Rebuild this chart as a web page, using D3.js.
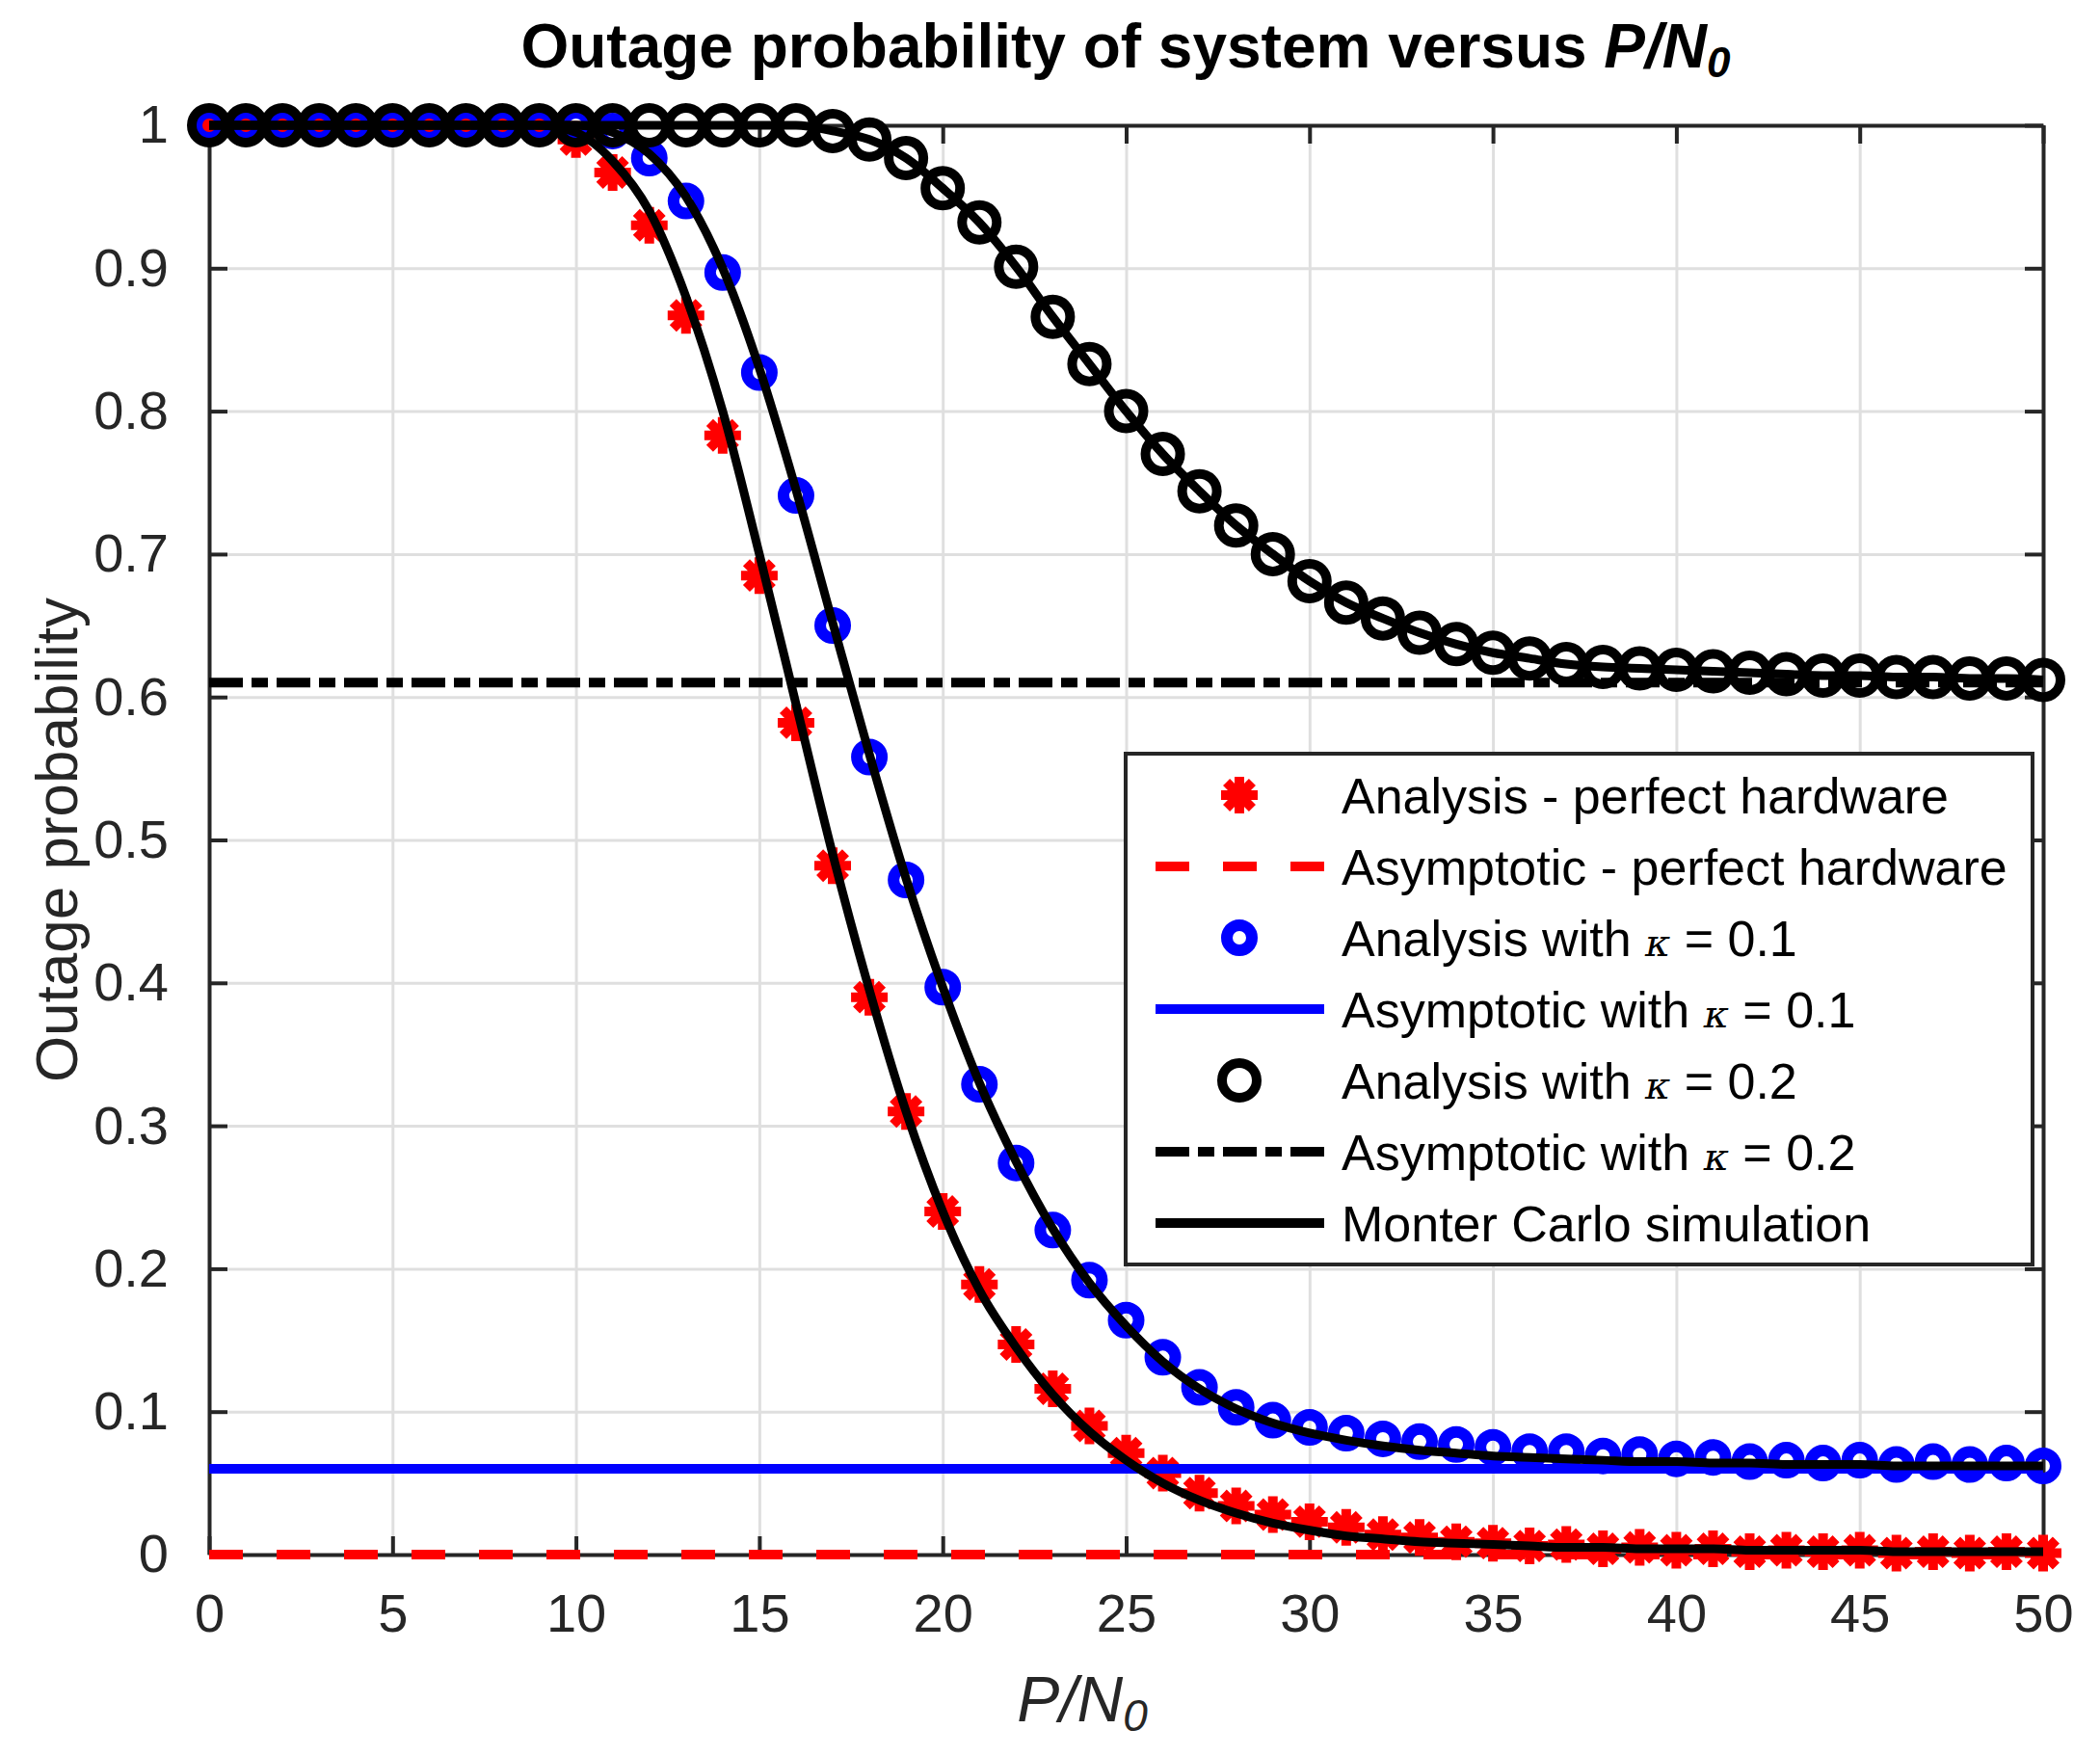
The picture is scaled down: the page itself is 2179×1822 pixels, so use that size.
<!DOCTYPE html>
<html>
<head>
<meta charset="utf-8">
<script src="https://cdnjs.cloudflare.com/ajax/libs/d3/7.8.5/d3.min.js"></script>
<style>
  body { margin: 0; background: #fff; }
  text { font-family: Arial, "Liberation Sans", Helvetica, sans-serif; }
</style>
</head>
<body>
<div id="chart"></div>
<script>
var w = 2179;
var h = 1822;

// P/N0 sample grid (one marker per unit)
var snr = d3.range(0, 51);

// Analysis markers
var anaPerfect = [1, 1, 1, 1, 1, 1, 1, 1, 1, 1,
  0.99, 0.967, 0.93, 0.867, 0.783, 0.685, 0.582, 0.482, 0.39, 0.31,
  0.24, 0.189, 0.147, 0.116, 0.09, 0.071, 0.057, 0.043, 0.034, 0.028,
  0.023, 0.019, 0.014, 0.012, 0.009, 0.008, 0.006, 0.007, 0.004, 0.005,
  0.003, 0.004, 0.002, 0.003, 0.002, 0.003, 0.001, 0.002, 0.001, 0.002, 0.001];

var anaK1 = [1, 1, 1, 1, 1, 1, 1, 1, 1, 1, 1,
  0.996, 0.977, 0.947, 0.897, 0.827, 0.741, 0.65, 0.558, 0.472,
  0.397, 0.329, 0.274, 0.227, 0.192, 0.164, 0.138, 0.117, 0.103, 0.094,
  0.089, 0.085, 0.081, 0.079, 0.077, 0.075, 0.072, 0.072, 0.069, 0.07,
  0.067, 0.068, 0.065, 0.066, 0.064, 0.066, 0.063, 0.065, 0.063, 0.064, 0.062];

var anaK2 = [1, 1, 1, 1, 1, 1, 1, 1, 1, 1, 1, 1, 1, 1, 1, 1, 1,
  0.996, 0.99, 0.977, 0.956, 0.932, 0.901, 0.866, 0.833, 0.8,
  0.77, 0.744, 0.72, 0.7, 0.681, 0.666, 0.655, 0.645, 0.637, 0.631,
  0.627, 0.623, 0.621, 0.62, 0.619, 0.618, 0.617, 0.616, 0.615, 0.615,
  0.614, 0.614, 0.613, 0.613, 0.612];

// Monte Carlo curves
var mcPerfect = [1, 1, 1, 1, 1, 1, 1, 1, 1, 1,
  0.995, 0.975, 0.94, 0.88, 0.8, 0.7, 0.595, 0.49, 0.395, 0.31,
  0.24, 0.185, 0.145, 0.112, 0.086, 0.066, 0.05, 0.038, 0.029, 0.022,
  0.017, 0.013, 0.011, 0.009, 0.008, 0.007, 0.006, 0.005, 0.005, 0.004,
  0.004, 0.004, 0.003, 0.003, 0.003, 0.003, 0.002, 0.002, 0.002, 0.002, 0.002];

var mcK1 = [1, 1, 1, 1, 1, 1, 1, 1, 1, 1, 1,
  0.995, 0.98, 0.95, 0.9, 0.83, 0.745, 0.652, 0.56, 0.473,
  0.397, 0.33, 0.275, 0.228, 0.19, 0.16, 0.135, 0.116, 0.102, 0.092,
  0.085, 0.08, 0.076, 0.073, 0.071, 0.069, 0.068, 0.067, 0.066, 0.065,
  0.065, 0.064, 0.064, 0.063, 0.063, 0.063, 0.062, 0.062, 0.062, 0.062, 0.062];

var mcK2 = [1, 1, 1, 1, 1, 1, 1, 1, 1, 1, 1, 1, 1, 1, 1, 1, 1,
  0.996, 0.99, 0.977, 0.956, 0.932, 0.901, 0.866, 0.833, 0.8,
  0.77, 0.744, 0.72, 0.7, 0.681, 0.666, 0.655, 0.645, 0.637, 0.631,
  0.627, 0.623, 0.621, 0.62, 0.619, 0.618, 0.617, 0.616, 0.615, 0.615,
  0.614, 0.614, 0.613, 0.613, 0.612];

// Asymptotic levels
var asymPerfect = 0;
var asymK1 = 0.06;
var asymK2 = 0.61;

var xTicks = [0, 5, 10, 15, 20, 25, 30, 35, 40, 45, 50];
var yTicks = [0, 0.1, 0.2, 0.3, 0.4, 0.5, 0.6, 0.7, 0.8, 0.9, 1];

var legendLabels = [
  ["Analysis - perfect hardware"],
  ["Asymptotic - perfect hardware"],
  ["Analysis with ", "κ", " = 0.1"],
  ["Asymptotic with ", "κ", " = 0.1"],
  ["Analysis with ", "κ", " = 0.2"],
  ["Asymptotic with ", "κ", " = 0.2"],
  ["Monter Carlo simulation"]
];

// plot box (window.top is reserved, so no "top" here)
var xLeft = 217, xRight = 2120, yTop = 130, yBottom = 1613;
var axisColor = "#262626";

var x = d3.scaleLinear().domain([0, 50]).range([xLeft, xRight]);
var y = d3.scaleLinear().domain([0, 1]).range([yBottom, yTop]);

var svg = d3.select("#chart")
  .append("svg")
  .attr("width", w)
  .attr("height", h);

svg.append("rect").attr("width", w).attr("height", h).attr("fill", "#fff");

// grid
svg.append("g")
  .attr("transform", "translate(0," + yBottom + ")")
  .call(d3.axisBottom(x).tickValues(xTicks).tickSize(-(yBottom - yTop)).tickFormat(""))
  .call(g => g.select(".domain").remove())
  .call(g => g.selectAll("line").attr("stroke", "#dfdfdf").attr("stroke-width", 3));

svg.append("g")
  .attr("transform", "translate(" + xLeft + ",0)")
  .call(d3.axisLeft(y).tickValues(yTicks).tickSize(-(xRight - xLeft)).tickFormat(""))
  .call(g => g.select(".domain").remove())
  .call(g => g.selectAll("line").attr("stroke", "#dfdfdf").attr("stroke-width", 3));

// axes box with inward ticks on all sides
function styleAxis(g) {
  g.select(".domain").attr("stroke", axisColor).attr("stroke-width", 4);
  g.selectAll(".tick line").attr("stroke", axisColor).attr("stroke-width", 4);
  g.selectAll(".tick text").attr("fill", axisColor).attr("font-size", 56);
}

svg.append("g")
  .attr("transform", "translate(0," + yBottom + ")")
  .call(d3.axisBottom(x).tickValues(xTicks).tickSizeInner(-19).tickSizeOuter(0).tickPadding(40).tickFormat(d3.format("d")))
  .call(styleAxis)
  .call(g => g.selectAll(".tick text").attr("dy", "0.71em"));

svg.append("g")
  .attr("transform", "translate(0," + yTop + ")")
  .call(d3.axisTop(x).tickValues(xTicks).tickSizeInner(-19).tickSizeOuter(0).tickFormat(""))
  .call(styleAxis);

svg.append("g")
  .attr("transform", "translate(" + xLeft + ",0)")
  .call(d3.axisLeft(y).tickValues(yTicks).tickSizeInner(-19).tickSizeOuter(0).tickPadding(42)
    .tickFormat(d => d === 0 || d === 1 ? d3.format("d")(d) : d3.format(".1f")(d)))
  .call(styleAxis);

svg.append("g")
  .attr("transform", "translate(" + xRight + ",0)")
  .call(d3.axisRight(y).tickValues(yTicks).tickSizeInner(-19).tickSizeOuter(0).tickFormat(""))
  .call(styleAxis);

// marker shapes
function asterisk(r) {
  var a = r * 0.707;
  return "M" + (-r) + ",0L" + r + ",0M0," + (-r) + "L0," + r +
    "M" + (-a) + "," + (-a) + "L" + a + "," + a + "M" + (-a) + "," + a + "L" + a + "," + (-a);
}

var line = d3.line()
  .x((d, i) => x(snr[i]))
  .y(d => y(d))
  .curve(d3.curveMonotoneX);

var data = svg.append("g");

// red: perfect hardware
data.selectAll(".redMark")
  .data(anaPerfect)
  .enter()
  .append("path")
  .attr("class", "redMark")
  .attr("transform", (d, i) => "translate(" + x(snr[i]) + "," + y(d) + ")")
  .attr("d", asterisk(19))
  .attr("stroke", "#ff0000")
  .attr("stroke-width", 10)
  .attr("fill", "none");

data.append("line")
  .attr("x1", x(0)).attr("x2", x(50))
  .attr("y1", y(asymPerfect)).attr("y2", y(asymPerfect))
  .attr("stroke", "#ff0000")
  .attr("stroke-width", 10)
  .attr("stroke-dasharray", "35,35");

// blue: kappa = 0.1
data.selectAll(".blueMark")
  .data(anaK1)
  .enter()
  .append("circle")
  .attr("class", "blueMark")
  .attr("cx", (d, i) => x(snr[i]))
  .attr("cy", d => y(d))
  .attr("r", 13)
  .attr("fill", "none")
  .attr("stroke", "#0000ff")
  .attr("stroke-width", 12);

data.append("line")
  .attr("x1", x(0)).attr("x2", x(50))
  .attr("y1", y(asymK1)).attr("y2", y(asymK1))
  .attr("stroke", "#0000ff")
  .attr("stroke-width", 10);

// black: kappa = 0.2
data.selectAll(".blackMark")
  .data(anaK2)
  .enter()
  .append("circle")
  .attr("class", "blackMark")
  .attr("cx", (d, i) => x(snr[i]))
  .attr("cy", d => y(d))
  .attr("r", 18)
  .attr("fill", "none")
  .attr("stroke", "#000")
  .attr("stroke-width", 10);

data.append("line")
  .attr("x1", x(0)).attr("x2", x(50))
  .attr("y1", y(asymK2)).attr("y2", y(asymK2))
  .attr("stroke", "#000")
  .attr("stroke-width", 10)
  .attr("stroke-dasharray", "35,9,17,9");

// Monte Carlo curves
[mcPerfect, mcK1, mcK2].forEach(function (s) {
  data.append("path")
    .attr("d", line(s))
    .attr("fill", "none")
    .attr("stroke", "#000")
    .attr("stroke-width", 9);
});

// legend
var legend = svg.append("g");
legend.append("rect")
  .attr("x", 1168).attr("y", 782)
  .attr("width", 941).attr("height", 530)
  .attr("fill", "#fff")
  .attr("stroke", axisColor)
  .attr("stroke-width", 4);

var rowY = d3.scalePoint().domain(d3.range(7)).range([825, 1269]);
var lx1 = 1199, lx2 = 1374, lmid = 1286;

legend.append("path")
  .attr("transform", "translate(" + lmid + "," + rowY(0) + ")")
  .attr("d", asterisk(19))
  .attr("stroke", "#ff0000").attr("stroke-width", 10).attr("fill", "none");
legend.append("line")
  .attr("x1", lx1).attr("x2", lx2).attr("y1", rowY(1)).attr("y2", rowY(1))
  .attr("stroke", "#ff0000").attr("stroke-width", 10).attr("stroke-dasharray", "35,35");
legend.append("circle")
  .attr("cx", lmid).attr("cy", rowY(2)).attr("r", 13)
  .attr("fill", "none").attr("stroke", "#0000ff").attr("stroke-width", 12);
legend.append("line")
  .attr("x1", lx1).attr("x2", lx2).attr("y1", rowY(3)).attr("y2", rowY(3))
  .attr("stroke", "#0000ff").attr("stroke-width", 10);
legend.append("circle")
  .attr("cx", lmid).attr("cy", rowY(4)).attr("r", 18)
  .attr("fill", "none").attr("stroke", "#000").attr("stroke-width", 10);
legend.append("line")
  .attr("x1", lx1).attr("x2", lx2).attr("y1", rowY(5)).attr("y2", rowY(5))
  .attr("stroke", "#000").attr("stroke-width", 10).attr("stroke-dasharray", "35,9,17,9");
legend.append("line")
  .attr("x1", lx1).attr("x2", lx2).attr("y1", rowY(6)).attr("y2", rowY(6))
  .attr("stroke", "#000").attr("stroke-width", 10);

legendLabels.forEach(function (parts, i) {
  var t = legend.append("text")
    .attr("x", 1392)
    .attr("y", rowY(i) + 19)
    .attr("font-size", 52)
    .attr("fill", "#000");
  parts.forEach(function (p) {
    var s = t.append("tspan").text(p);
    if (p === "κ") s.attr("font-style", "italic").attr("font-family", "'DejaVu Serif', serif").attr("font-size", 40);
  });
});

// title
var title = svg.append("text")
  .attr("x", 1168)
  .attr("y", 70)
  .attr("text-anchor", "middle")
  .attr("font-size", 64)
  .attr("font-weight", "bold")
  .attr("fill", "#000");
title.append("tspan").text("Outage probability of system versus ");
title.append("tspan").attr("font-style", "italic").text("P/N");
title.append("tspan").attr("font-style", "italic").attr("font-size", 44).attr("dy", 10).text("0");

// x label
var xl = svg.append("text")
  .attr("x", 1123)
  .attr("y", 1786)
  .attr("text-anchor", "middle")
  .attr("font-size", 66)
  .attr("font-style", "italic")
  .attr("fill", axisColor);
xl.append("tspan").text("P/N");
xl.append("tspan").attr("font-size", 46).attr("dy", 10).text("0");

// y label
svg.append("text")
  .attr("transform", "translate(80," + ((yTop + yBottom) / 2) + ") rotate(-90)")
  .attr("text-anchor", "middle")
  .attr("font-size", 62)
  .attr("fill", axisColor)
  .text("Outage probability");
</script>
</body>
</html>
